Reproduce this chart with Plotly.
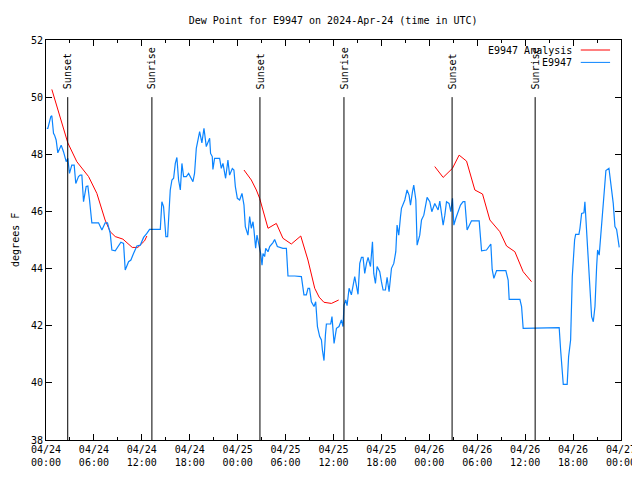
import pandas as pd
import plotly.graph_objects as go

BASE = pd.Timestamp("2024-04-24 00:00")

# Observed dew point (hours since 04/24 00:00 UTC, degrees F)
obs_hours = [0.10, 0.23, 0.60, 0.73, 0.94, 1.07, 1.27, 1.48, 1.90, 2.19, 2.53, 2.73, 2.94, 3.23, 3.53, 3.73,
             4.07, 4.28, 4.49, 4.70, 5.03, 5.24, 5.45, 5.74, 6.58, 7.00, 7.41, 7.70, 8.04, 8.25, 8.67, 9.08,
             9.38, 9.71, 9.92, 10.34, 10.63, 10.96, 11.38, 11.80, 12.22, 12.63, 12.97, 14.31, 14.51, 14.72,
             15.01, 15.23, 15.56, 15.77, 15.98, 16.19, 16.39, 16.60, 16.82, 17.02, 17.23, 17.57, 17.86, 18.40,
             18.60, 18.82, 19.24, 19.52, 19.78, 20.07, 20.28, 20.49, 20.61, 20.82, 20.90, 21.11, 21.74, 21.95,
             22.16, 22.49, 22.78, 22.99, 23.33, 23.53, 23.71, 23.96, 24.25, 24.54, 24.79, 24.96, 25.29, 25.50,
             25.71, 25.92, 26.04, 26.25, 26.42, 26.67, 26.88, 27.05, 27.17, 27.38, 27.51, 27.80, 28.01, 28.42,
             28.63, 28.97, 29.67, 30.10, 30.30, 31.14, 31.98, 32.30, 32.60, 32.81, 33.00, 33.23, 33.56, 33.77,
             33.99, 34.27, 34.49, 34.61, 34.81, 34.99, 35.11, 35.65, 35.81, 36.07, 36.37, 36.69, 36.99, 37.19,
             37.32, 37.53, 37.70, 37.95, 38.24, 38.66, 38.87, 39.07, 39.29, 39.50, 39.70, 39.91, 40.13, 40.33,
             40.63, 40.88, 41.04, 41.25, 41.46, 41.79, 42.00, 42.21, 42.50, 42.71, 42.96, 43.26, 43.55, 43.80,
             43.96, 44.17, 44.39, 44.51, 44.93, 45.21, 45.46, 45.64, 45.89, 46.05, 46.31, 46.47, 46.80, 47.02,
             47.31, 47.56, 47.72, 48.06, 48.31, 48.68, 49.10, 49.31, 49.73, 49.94, 50.15, 50.47, 50.69, 50.90,
             51.07, 51.32, 51.60, 51.90, 52.23, 52.45, 52.73, 53.28, 54.24, 54.54, 55.16, 55.70, 55.87, 56.08,
             56.42, 57.58, 57.87, 58.00, 59.34, 59.55, 59.75, 64.26, 64.44, 64.69, 64.77, 65.26, 65.44, 65.69,
             65.90, 66.19, 66.32, 66.73, 66.86, 67.07, 67.36, 67.48, 67.82, 68.11, 68.32, 68.53, 68.74, 68.95,
             69.07, 69.27, 69.58, 69.86, 70.11, 70.49, 70.70, 71.03, 71.24, 71.45, 71.78]
obs_values = [48.91, 48.91, 49.32, 49.35, 48.73, 48.67, 48.50, 48.05, 48.32, 48.09, 47.74, 47.86, 47.33, 47.62, 47.62, 46.98,
              47.22, 47.27, 47.27, 46.34, 46.87, 46.89, 46.40, 45.60, 45.60, 45.35, 45.60, 45.60, 45.23, 44.65, 44.62, 44.77,
              44.92, 44.88, 43.95, 44.24, 44.30, 44.53, 44.79, 44.82, 45.09, 45.23, 45.37, 45.37, 46.34, 46.17,
              45.12, 45.12, 46.75, 47.10, 47.16, 47.68, 47.89, 47.10, 46.75, 47.68, 47.22, 47.22, 47.33, 47.04,
              47.33, 48.21, 48.79, 48.40, 48.91, 48.27, 48.40, 48.56, 48.03, 47.92, 47.47, 47.86, 47.86, 47.51,
              47.68, 47.16, 47.80, 47.27, 47.50, 47.45, 46.87, 46.46, 46.40, 46.63, 46.22, 45.47, 45.17, 45.82,
              45.41, 45.64, 45.35, 44.71, 45.17, 44.82, 44.53, 44.12, 44.53, 44.42, 44.71, 44.59, 44.77, 44.91,
              45.02, 44.77, 44.71, 44.71, 43.74, 43.74, 43.72, 43.08, 43.08, 43.31, 43.31, 42.84, 42.67, 42.84,
              41.97, 41.62, 41.50, 41.15, 40.78, 41.68, 42.06, 42.06, 42.32, 41.38, 41.91, 41.97, 42.20, 41.97,
              42.72, 42.90, 42.70, 43.31, 43.08, 43.72, 43.37, 43.10, 44.18, 44.39, 44.39, 43.83, 44.18, 44.39,
              44.07, 44.94, 43.83, 43.48, 44.07, 43.89, 43.54, 43.25, 43.25, 43.69, 43.19, 44.01, 44.18, 44.59,
              45.52, 45.17, 45.82, 46.11, 46.40, 46.75, 46.57, 46.22, 46.69, 46.92, 46.40, 44.82, 45.17, 45.70,
              45.87, 46.22, 46.49, 46.34, 45.99, 46.28, 46.05, 46.36, 45.52, 45.87, 46.34, 46.28, 45.99, 46.46,
              45.52, 45.76, 45.99, 46.22, 46.34, 46.34, 45.35, 45.67, 45.67, 44.62, 44.65, 44.86, 43.97, 43.66,
              43.93, 43.93, 43.60, 42.92, 42.92, 42.67, 41.91, 41.93, 41.15, 40.28, 39.95, 39.95, 40.92, 41.50,
              43.72, 45.00, 45.20, 45.20, 45.41, 45.93, 45.95, 46.34, 44.77, 43.37, 42.32, 42.14, 42.67, 44.07,
              44.65, 44.47, 45.47, 46.40, 47.43, 47.51, 46.98, 46.28, 45.47, 45.37, 44.74]

# Analysis dew point, three separate segments
ana1_hours = [0.73, 2.73, 3.86, 4.70, 5.33, 6.37, 7.20, 7.40, 8.04, 8.67, 9.63, 10.80, 11.50, 12.34, 12.63]
ana1_values = [50.27, 48.40, 47.74, 47.45, 47.22, 46.63, 45.93, 45.70, 45.29, 45.12, 45.03, 44.74, 44.74, 44.97, 45.14]
ana2_hours = [24.79, 25.71, 26.34, 26.75, 27.80, 28.84, 29.67, 30.72, 31.90, 32.80, 33.65, 34.20, 34.80, 35.74, 36.65]
ana2_values = [47.45, 47.10, 46.75, 46.46, 45.41, 45.58, 45.06, 44.86, 45.14, 44.30, 43.31, 43.00, 42.82, 42.78, 42.90]
ana3_hours = [48.68, 49.73, 50.90, 51.73, 52.66, 52.98, 53.70, 54.66, 55.58, 56.83, 57.67, 58.71, 59.75, 60.80]
ana3_values = [47.57, 47.19, 47.51, 47.97, 47.76, 47.47, 46.75, 46.61, 45.70, 45.29, 44.79, 44.59, 43.89, 43.54]

sun_hours = [2.72, 13.26, 26.79, 37.31, 50.85, 61.25]
sun_labels = ["Sunset", "Sunrise", "Sunset", "Sunrise", "Sunset", "Sunrise"]

y_ticks = [38, 40, 42, 44, 46, 48, 50, 52]

RED = "#ff0000"
BLUE = "#0a84ff"
FONT = "DejaVu Sans Mono"


def to_time(hours):
    return [BASE + pd.Timedelta(hours=h) for h in hours]


ana_x = to_time(ana1_hours) + [None] + to_time(ana2_hours) + [None] + to_time(ana3_hours)
ana_y = ana1_values + [None] + ana2_values + [None] + ana3_values

fig = go.Figure()
fig.add_trace(go.Scatter(x=ana_x, y=ana_y, mode="lines", name="E9947 Analysis",
                         line=dict(color=RED, width=1), connectgaps=False))
fig.add_trace(go.Scatter(x=to_time(obs_hours), y=obs_values, mode="lines", name="E9947",
                         line=dict(color=BLUE, width=1.2)))

annotations = []
shapes = []
for h, lab in zip(sun_hours, sun_labels):
    t = BASE + pd.Timedelta(hours=h)
    shapes.append(dict(type="line", xref="x", yref="y", x0=t, x1=t, y0=38, y1=50,
                       line=dict(color="black", width=1)))
    annotations.append(dict(x=t, y=50.2, xref="x", yref="y", text=lab, showarrow=False,
                            textangle=-90, xanchor="center", yanchor="bottom",
                            font=dict(family=FONT, size=10, color="black")))

# manual legend (gnuplot style: text left of sample)
leg = [("E9947 Analysis", RED, 0.975), ("E9947", BLUE, 0.944)]
for text, col, yy in leg:
    annotations.append(dict(x=0.918, y=yy, xref="paper", yref="paper", text=text, showarrow=False,
                            xanchor="right", yanchor="middle",
                            font=dict(family=FONT, size=10, color="black")))
    shapes.append(dict(type="line", xref="paper", yref="paper", x0=0.930, x1=0.981, y0=yy, y1=yy,
                       line=dict(color=col, width=1)))

annotations.append(dict(x=-0.054, y=0.5, xref="paper", yref="paper", text="degrees F", showarrow=False,
                        textangle=-90, xanchor="center", yanchor="middle",
                        font=dict(family=FONT, size=10, color="black")))

fig.update_layout(
    width=640, height=480,
    margin=dict(l=38, r=27, t=32, b=48, autoexpand=False),
    paper_bgcolor="white", plot_bgcolor="white",
    showlegend=False,
    title=dict(text="Dew Point for E9947 on 2024-Apr-24 (time in UTC)", x=0.508, xanchor="center",
               y=0.975, yanchor="middle", font=dict(family=FONT, size=10, color="black")),
    font=dict(family=FONT, size=10, color="black"),
    shapes=shapes, annotations=annotations,
)
fig.update_xaxes(
    type="date", range=[BASE, BASE + pd.Timedelta(hours=72)], automargin=False,
    dtick=6 * 3600 * 1000, tick0=BASE, tickformat="%m/%d<br>%H:%M",
    ticks="inside", ticklen=6, tickcolor="black", showgrid=False, zeroline=False,
    showline=True, linecolor="black", linewidth=1, mirror="allticks",
    minor=dict(dtick=3 * 3600 * 1000, tick0=BASE, ticks="inside", ticklen=3, tickcolor="black", showgrid=False),
    tickfont=dict(family=FONT, size=10, color="black"),
)
fig.update_yaxes(
    range=[38, 52], tickvals=y_ticks, ticks="inside", ticklen=6, tickcolor="black", automargin=False,
    showgrid=False, zeroline=False, showline=True, linecolor="black", linewidth=1, mirror="allticks",
    tickfont=dict(family=FONT, size=10, color="black"),
)

fig.write_html("out.html")
